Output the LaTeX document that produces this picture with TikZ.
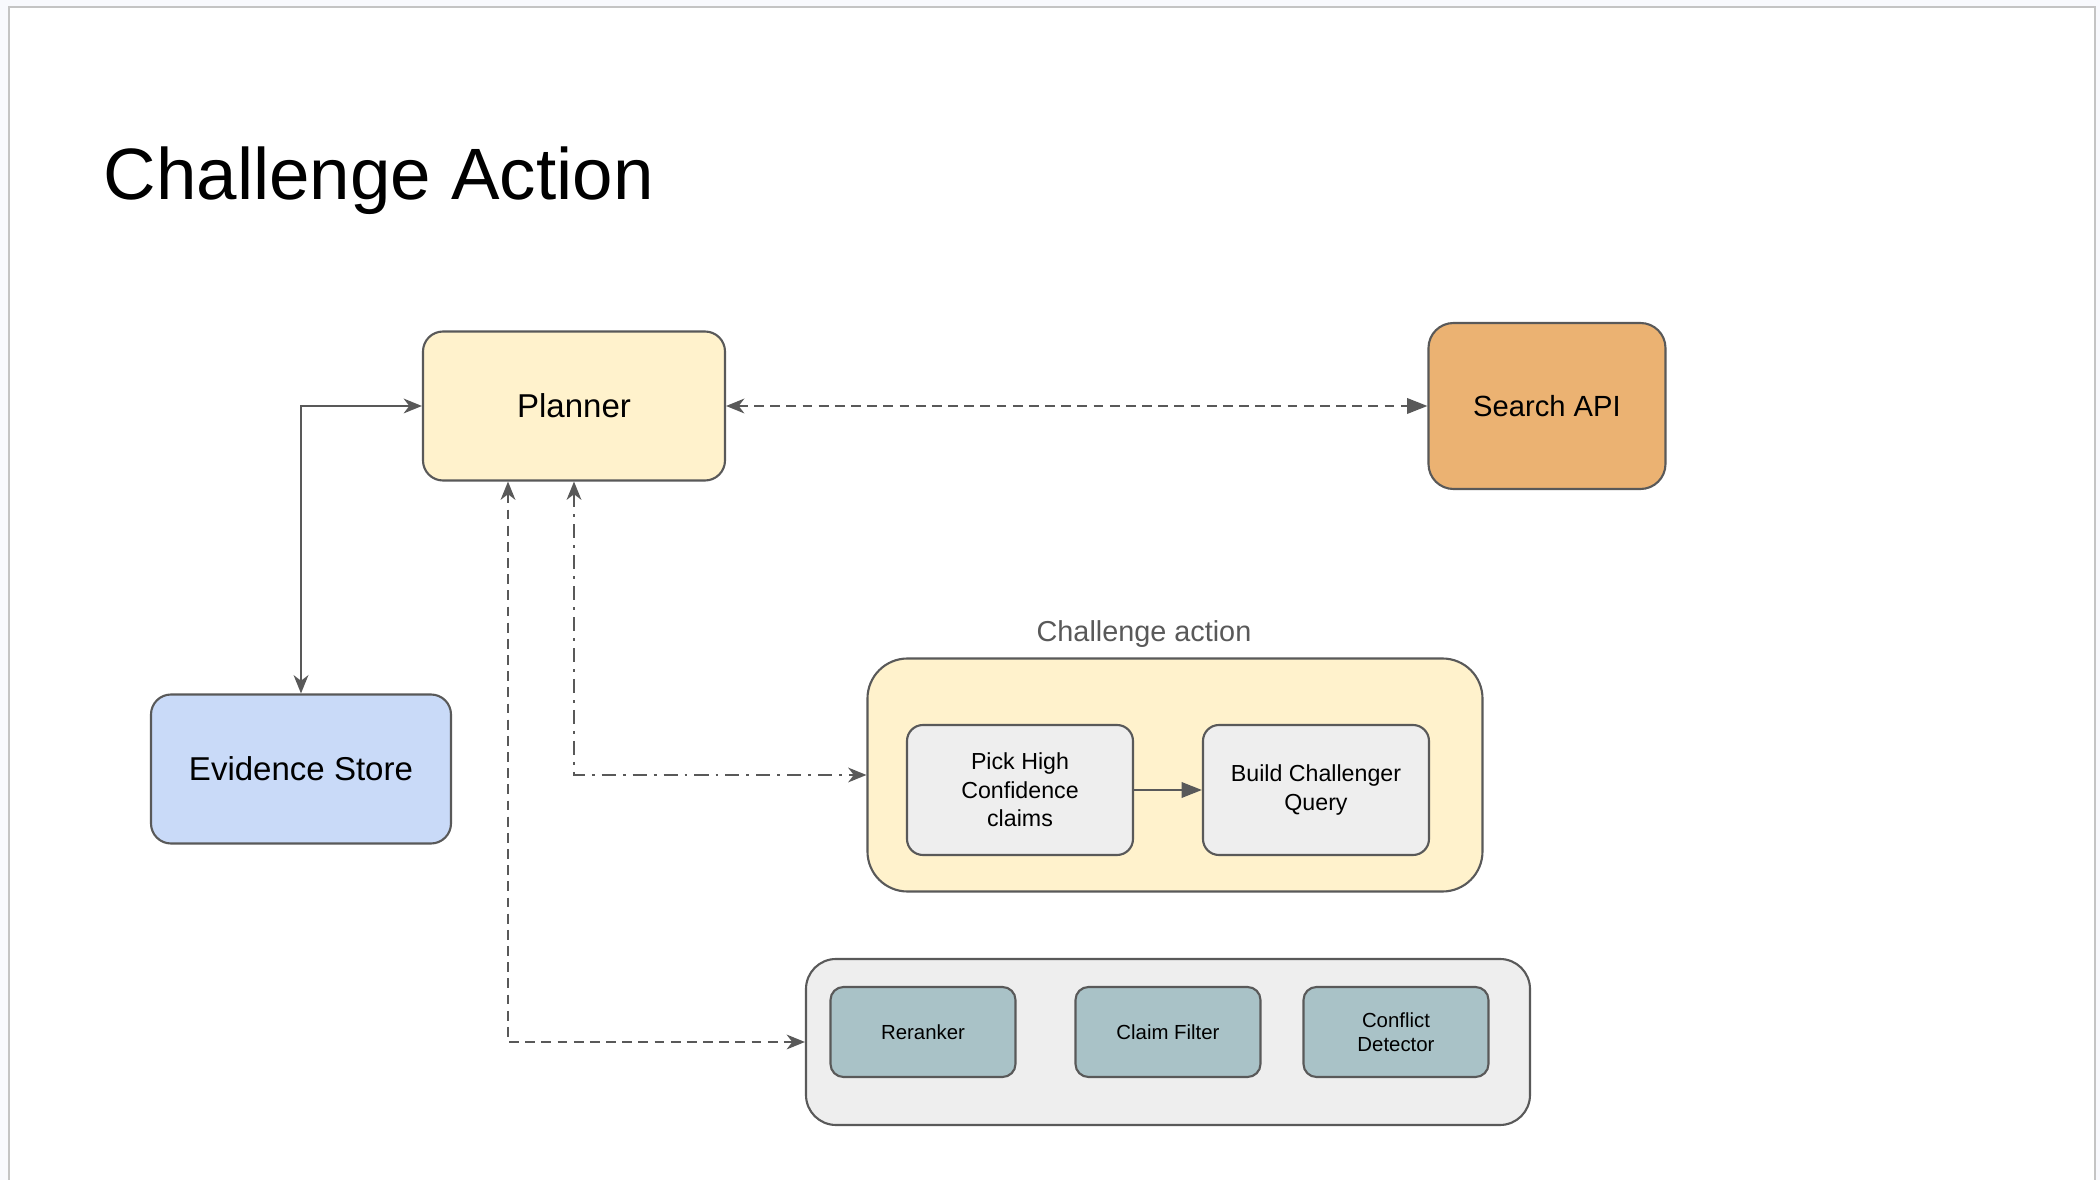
\documentclass[tikz,border=0pt]{standalone}
\usepackage{fontspec}
\setmainfont{Liberation Sans}
\usetikzlibrary{arrows.meta, positioning}
\definecolor{ink}{HTML}{595959}
\definecolor{page-bg}{HTML}{F8F9FD}
\definecolor{frame-line}{HTML}{C4C4C4}
\definecolor{planner-tone}{HTML}{FFF2CC}
\definecolor{search-tone}{HTML}{EBB272}
\definecolor{store-tone}{HTML}{C9DAF8}
\definecolor{step-tone}{HTML}{EEEEEE}
\definecolor{tool-tone}{HTML}{A9C2C7}

\begin{document}
\begin{tikzpicture}[
    notch/.tip={Stealth[length=5.2pt, width=4.2pt, inset=1.6pt]},
    solid tip/.tip={Triangle[length=5.8pt, width=4.4pt]},
    box/.style={
        rectangle, rounded corners=0.2cm,
        draw=ink, line width=0.6pt,
        inner sep=0pt, align=center, text=black,
        font=\fontsize{9.4}{11.3}\selectfont,
    },
    main-box/.style={box, minimum width=3.0cm, minimum height=1.49cm},
    group-box/.style={box, fill=step-tone, rounded corners=0.3cm},
    step-box/.style={
        box, fill=step-tone, rounded corners=0.16cm,
        minimum width=2.26cm, minimum height=1.30cm,
        font=\fontsize{6.6}{8.1}\selectfont,
    },
    tool-box/.style={
        box, fill=tool-tone, rounded corners=0.13cm,
        minimum width=1.85cm, minimum height=0.90cm,
        font=\fontsize{5.8}{6.8}\selectfont,
    },
    title/.style={font=\fontsize{20.7}{25}\selectfont, text=black, inner sep=0pt},
    grouplabel/.style={font=\fontsize{8.2}{9.8}\selectfont, text=ink, inner sep=0pt},
    link/.style={draw=ink, line width=0.6pt},
    dash-link/.style={link, dash pattern=on 2.8pt off 1.8pt},
    dot-link/.style={link, dash pattern=on 4pt off 2pt on 0.8pt off 2pt},
]

% page frame
\useasboundingbox (0, 0) rectangle (21, 11.8);
\fill[page-bg] (0, 0) rectangle (21, 11.8);
\fill[white] (0.09, 0) rectangle (20.95, 11.73);
\draw[frame-line, line width=0.8pt] (0.09, 0) -- (0.09, 11.73) -- (20.95, 11.73) -- (20.95, 0);

\node[title, anchor=base west] (title) at (1.03, 9.80) {Challenge Action};

% =====================================================================
% TOP ROW — Planner and Search API
% =====================================================================

\node[main-box, fill=planner-tone, minimum width=3.02cm] (planner) at (5.74, 7.74) {Planner};
\node[main-box, fill=search-tone, minimum width=2.37cm, minimum height=1.66cm,
      rounded corners=0.25cm, font=\fontsize{8.3}{10}\selectfont] (search) at (15.47, 7.74) {Search API};
\node[main-box, fill=store-tone] (store) at (3.01, 4.11) {Evidence Store};

% =====================================================================
% CHALLENGE ACTION group
% =====================================================================

\node[group-box, fill=planner-tone, minimum width=6.15cm, minimum height=2.33cm,
      rounded corners=0.4cm] (challenge) at (11.75, 4.05) {};
\node[grouplabel] (challenge-label) at (11.44, 5.46) {Challenge action};

\node[step-box] (pick)  at (10.20, 3.90) {Pick High\\Confidence\\claims};
\node[step-box] (build) at (13.16, 3.90) {Build Challenger\\Query};

\draw[link, -{solid tip}] (pick) -- (build);

% =====================================================================
% TOOLS group
% =====================================================================

\node[group-box, minimum width=7.24cm, minimum height=1.66cm] (tools) at (11.68, 1.38) {};

\node[tool-box] (reranker) at (9.23, 1.48)  {Reranker};
\node[tool-box] (filter)   at (11.68, 1.48) {Claim Filter};
\node[tool-box] (conflict) at (13.96, 1.48) {Conflict\\Detector};

% =====================================================================
% CONNECTORS
% =====================================================================

\draw[link, {notch}-{notch}] (planner.west) -| (store.north);
\draw[dash-link, {notch}-{solid tip}] (planner.east) -- (search.west);
\draw[dot-link, {notch}-{notch}] (planner.south) |- (challenge.west);
\draw[dash-link, {notch}-{notch}] ([xshift=-0.66cm] planner.south) |- (tools.west);

\end{tikzpicture}
\end{document}
